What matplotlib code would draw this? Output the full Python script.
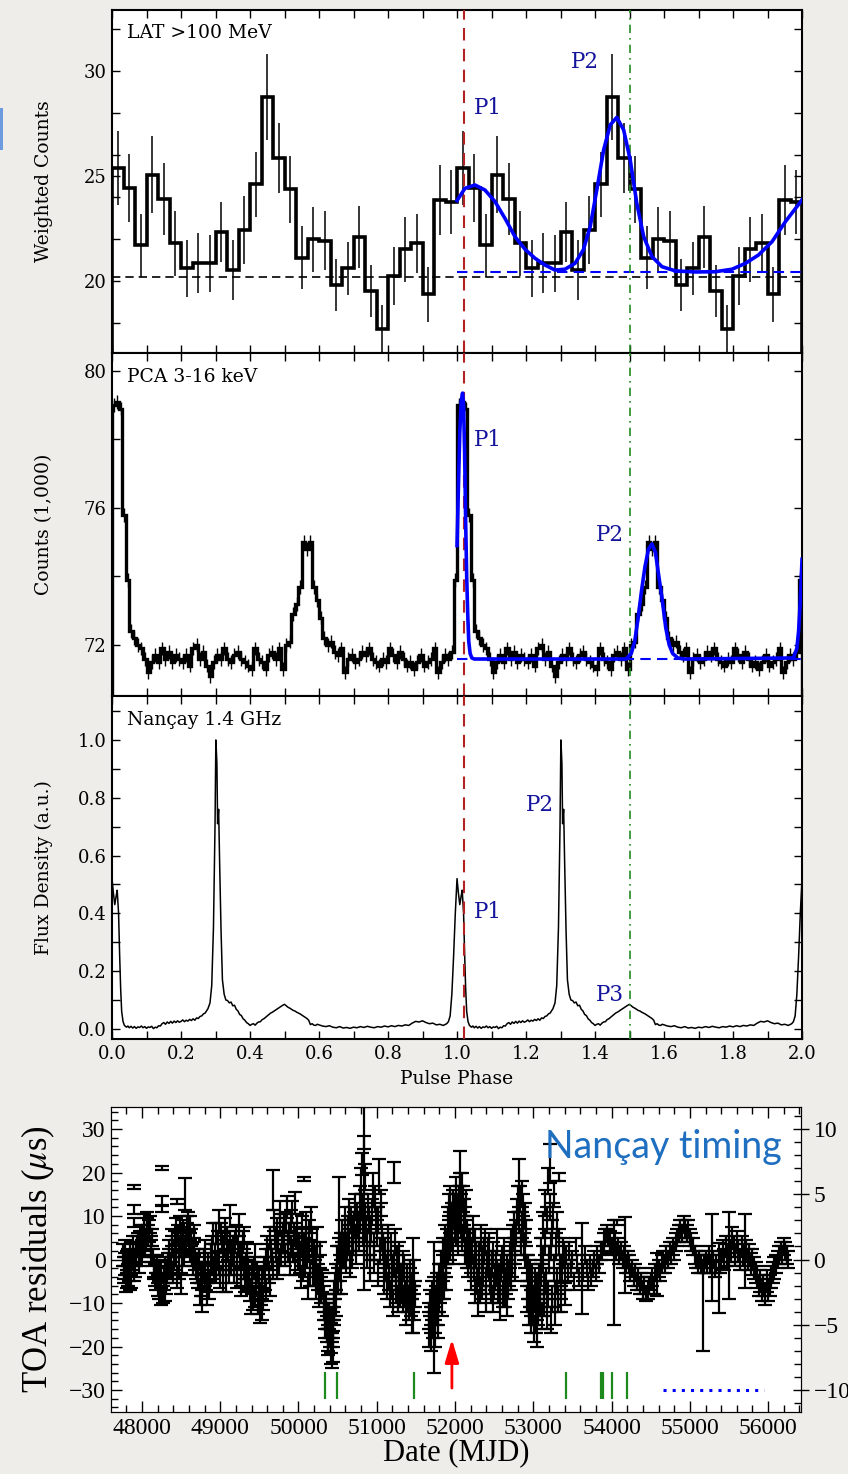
import matplotlib.pyplot as plt
from matplotlib.patches import Rectangle
from matplotlib.ticker import MultipleLocator
import numpy as np

plt.rcParams['font.family'] = 'DejaVu Serif'
plt.rcParams['mathtext.fontset'] = 'stix'

# ---- LAT >100 MeV, 30 bins per rotation (one rotation, shown twice)
lat_counts = [25.37, 24.44, 21.71, 25.05, 23.90, 21.79, 20.60, 20.84, 20.84, 22.35,
              20.52, 22.43, 24.60, 28.78, 25.87, 24.37, 21.11, 21.98, 21.92, 19.81,
              20.60, 22.08, 19.52, 17.70, 20.24, 21.51, 21.79, 19.37, 23.86, 23.78]
lat_err = [1.75, 1.62, 1.50, 1.83, 1.70, 1.55, 1.35, 1.43, 1.37, 1.43,
           1.41, 1.60, 1.55, 2.05, 1.67, 1.60, 1.50, 1.53, 1.39, 1.23,
           1.27, 1.47, 1.23, 1.15, 1.37, 1.55, 1.40, 1.31, 1.67, 1.52]
lat_bg = 20.2
lat_fit_phase = [1.0, 1.023, 1.052, 1.081, 1.110, 1.139, 1.168, 1.197, 1.226, 1.255,
                 1.284, 1.313, 1.342, 1.366, 1.386, 1.405, 1.425, 1.444, 1.463, 1.483,
                 1.502, 1.521, 1.541, 1.565, 1.594, 1.633, 1.691, 1.749, 1.797, 1.836,
                 1.874, 1.913, 1.952, 2.0]
lat_fit = [23.83, 24.41, 24.57, 24.33, 23.78, 22.98, 22.11, 21.51, 21.08, 20.76,
           20.52, 20.56, 20.84, 21.48, 22.59, 24.33, 26.24, 27.43, 27.79, 27.19,
           25.76, 23.70, 22.11, 21.16, 20.68, 20.48, 20.43, 20.44, 20.56, 20.84,
           21.24, 21.87, 22.83, 23.86]
lat_fit_bg = 20.41

# ---- PCA 3-16 keV, 100 bins per rotation (thousands of counts)
pca_counts = [79.0, 79.1, 78.9, 75.8, 73.9, 72.4, 72.2, 72.0, 71.9, 71.6,
              71.2, 71.5, 71.7, 71.5, 71.9, 71.6, 71.8, 71.5, 71.7, 71.6,
              71.5, 71.7, 71.4, 71.9, 72.0, 71.6, 71.8, 71.4, 71.1, 71.5,
              71.7, 71.6, 71.9, 71.6, 71.5, 71.7, 71.8, 71.6, 71.5, 71.4,
              71.3, 71.9, 71.6, 71.5, 71.3, 71.7, 71.8, 71.6, 71.9, 71.3,
              72.0, 72.1, 72.9, 73.2, 73.7, 75.0, 74.8, 75.0, 73.7, 73.3,
              72.8, 72.2, 72.0, 72.1, 71.8, 71.7, 71.9, 71.2, 71.6, 71.7,
              71.5, 71.6, 71.8, 71.7, 71.9, 71.6, 71.5, 71.4, 71.6, 71.5,
              71.9, 71.7, 71.5, 71.8, 71.6, 71.4, 71.5, 71.3, 71.5, 71.7,
              71.4, 71.5, 71.6, 71.9, 71.2, 71.5, 71.7, 71.6, 71.8, 73.9]
pca_err = 0.2
pca_fit_phase = [1.000, 1.004, 1.008, 1.012, 1.016, 1.019, 1.022, 1.025, 1.028, 1.031,
                 1.034, 1.038, 1.043, 1.05, 1.49, 1.505, 1.515, 1.525, 1.535, 1.545,
                 1.555, 1.565, 1.575, 1.585, 1.595, 1.605, 1.615, 1.625, 1.64, 1.66,
                 1.975, 1.985, 1.99, 1.995, 2.0]
pca_fit = [74.9, 76.6, 78.2, 79.1, 79.35, 79.0, 77.6, 75.6, 74.0, 72.9,
           72.1, 71.75, 71.62, 71.59, 71.59, 71.75, 72.1, 72.8, 73.6, 74.3,
           74.8, 74.95, 74.7, 74.0, 73.3, 72.5, 72.0, 71.75, 71.62, 71.59,
           71.62, 71.9, 72.4, 73.3, 74.5]
pca_fit_bg = 71.59

# ---- Nancay 1.4 GHz profile (one rotation)
radio_phase = [0.000, 0.004, 0.008, 0.012, 0.015, 0.019, 0.022, 0.025, 0.028, 0.032,
               0.036, 0.042, 0.046, 0.05, 0.055, 0.06, 0.065, 0.07, 0.075, 0.08,
               0.085, 0.09, 0.095, 0.10, 0.105, 0.11, 0.115, 0.12, 0.125, 0.13,
               0.135, 0.14, 0.145, 0.15, 0.155, 0.16, 0.165, 0.17, 0.175, 0.18,
               0.185, 0.19, 0.195, 0.20, 0.205, 0.21, 0.215, 0.22, 0.225, 0.23,
               0.235, 0.24, 0.245, 0.25, 0.255, 0.26, 0.265, 0.27, 0.278, 0.284,
               0.289, 0.294, 0.2985, 0.301, 0.304, 0.306, 0.309, 0.312, 0.316, 0.320,
               0.325, 0.330, 0.335, 0.34, 0.345, 0.35, 0.355, 0.36, 0.365, 0.37,
               0.375, 0.38, 0.385, 0.39, 0.395, 0.40, 0.405, 0.41, 0.415, 0.42,
               0.425, 0.43, 0.435, 0.44, 0.445, 0.45, 0.455, 0.46, 0.465, 0.47,
               0.475, 0.48, 0.485, 0.49, 0.495, 0.50, 0.505, 0.51, 0.515, 0.52,
               0.525, 0.53, 0.535, 0.54, 0.545, 0.55, 0.555, 0.56, 0.565, 0.57,
               0.575, 0.58, 0.585, 0.59, 0.595, 0.60, 0.61, 0.62, 0.63, 0.64,
               0.65, 0.66, 0.67, 0.68, 0.69, 0.70, 0.71, 0.72, 0.73, 0.74,
               0.75, 0.76, 0.77, 0.78, 0.79, 0.80, 0.81, 0.82, 0.83, 0.84,
               0.85, 0.86, 0.87, 0.88, 0.89, 0.90, 0.91, 0.92, 0.93, 0.94,
               0.95, 0.96, 0.97, 0.975, 0.98, 0.985, 0.99, 0.995]
radio_flux = [0.52, 0.47, 0.43, 0.46, 0.48, 0.40, 0.26, 0.14, 0.06, 0.025,
              0.012, 0.006, 0.010, 0.004, 0.009, 0.003, 0.008, 0.002, 0.007, 0.005,
              0.010, 0.004, 0.008, 0.002, 0.007, 0.005, 0.009, 0.001, 0.006, 0.004,
              0.011, 0.010, 0.018, 0.022, 0.016, 0.024, 0.019, 0.026, 0.020, 0.027,
              0.022, 0.028, 0.023, 0.026, 0.031, 0.025, 0.030, 0.027, 0.033, 0.029,
              0.035, 0.030, 0.038, 0.036, 0.043, 0.045, 0.052, 0.055, 0.07, 0.09,
              0.15, 0.35, 0.70, 1.00, 0.92, 0.71, 0.76, 0.57, 0.34, 0.17,
              0.12, 0.10, 0.098, 0.09, 0.093, 0.08, 0.082, 0.068, 0.062, 0.05,
              0.046, 0.035, 0.030, 0.022, 0.018, 0.012, 0.016, 0.018, 0.013, 0.020,
              0.024, 0.025, 0.032, 0.035, 0.040, 0.045, 0.050, 0.055, 0.058, 0.062,
              0.066, 0.07, 0.074, 0.078, 0.082, 0.085, 0.080, 0.075, 0.072, 0.068,
              0.064, 0.062, 0.058, 0.055, 0.052, 0.048, 0.044, 0.04, 0.036, 0.03,
              0.015, 0.018, 0.013, 0.012, 0.016, 0.014, 0.010, 0.008, 0.011, 0.006,
              0.004, 0.008, 0.003, 0.005, 0.002, 0.006, 0.004, 0.008, 0.005, 0.009,
              0.006, 0.004, 0.008, 0.006, 0.010, 0.007, 0.011, 0.008, 0.012, 0.010,
              0.014, 0.012, 0.020, 0.026, 0.024, 0.028, 0.022, 0.018, 0.020, 0.014,
              0.016, 0.012, 0.018, 0.025, 0.045, 0.12, 0.25, 0.40]

p1_phase = 1.02
p3_phase = 1.5

# ---- Nancay timing residuals: (MJD, residual us, error us)
toa_points = [
    (47760, 1.0, 2.5), (47775, -3.5, 2.0), (47790, -1.0, 2.5), (47805, -4.5, 2.0), (47820, 0.5, 2.0),
    (47835, -2.5, 2.5), (47850, -5.0, 2.0), (47865, -1.5, 2.0), (47880, 1.5, 2.5), (47893, 16.7, 0.4),
    (47895, 11.5, 1.0), (47897, 8.5, 1.0), (47905, -3.0, 2.0),
    (47920, 0.5, 2.0), (47940, 3.0, 2.5), (47960, -1.0, 2.0), (47980, 4.5, 2.0), (48000, 2.0, 2.5),
    (48020, 6.0, 2.0), (48040, 3.5, 2.5), (48060, 7.5, 2.0), (48080, 5.5, 2.5), (48100, 8.0, 2.0),
    (48120, 3.0, 2.5), (48140, 0.5, 2.0),
    (48160, -2.0, 2.5), (48180, -5.0, 2.0), (48200, -3.0, 2.5), (48220, -7.0, 2.0), (48240, -4.0, 2.5),
    (48255, 21.0, 0.5), (48258, 13.5, 1.2), (48262, 11.8, 0.8), (48270, -8.0, 2.0), (48290, -2.0, 2.5),
    (48310, -6.0, 2.0), (48330, -1.0, 2.5),
    (48350, 2.0, 2.5), (48370, -2.0, 2.5), (48390, 5.0, 2.0), (48410, 0.0, 2.5), (48430, 7.0, 2.5),
    (48447, 13.3, 0.6), (48450, -4.0, 2.5), (48470, 3.0, 2.5), (48490, 8.0, 2.0), (48505, -5.5, 2.5),
    (48520, 4.0, 2.0), (48540, 1.0, 2.5),
    (48555, 15.0, 3.7), (48570, 6.0, 2.5), (48590, 9.0, 2.0), (48610, 2.0, 2.5), (48630, 5.0, 2.0),
    (48650, -1.0, 2.5), (48670, 3.0, 2.0), (48690, -2.0, 2.5),
    (48710, -4.0, 2.5), (48730, 0.0, 2.5), (48750, -6.0, 2.5), (48765, -9.5, 2.5), (48780, -3.0, 2.0),
    (48800, 2.0, 2.5), (48820, -5.0, 2.0), (48840, -1.0, 2.5), (48860, -7.0, 2.0), (48880, 1.0, 2.5),
    (48900, 3.0, 2.5), (48920, -2.0, 2.5), (48940, 6.0, 2.5), (48960, 0.0, 2.0), (48980, 9.0, 2.5),
    (49000, -4.0, 2.5), (49020, 4.0, 2.0), (49040, -1.0, 2.5), (49060, 7.0, 2.5), (49080, -5.0, 2.5),
    (49100, 2.0, 2.0), (49120, 10.0, 2.5), (49140, -1.0, 2.5),
    (49160, 3.0, 2.5), (49180, -3.0, 2.5), (49200, 6.0, 2.0), (49220, -1.0, 2.5), (49240, 8.0, 2.5),
    (49260, -4.0, 2.0), (49280, 1.0, 2.5), (49300, 5.0, 2.5), (49320, -5.0, 2.5), (49340, 2.0, 2.0),
    (49360, -2.0, 2.5), (49380, -7.0, 2.5), (49400, -3.0, 2.5), (49420, -9.0, 2.5), (49440, 1.0, 2.5),
    (49460, -6.0, 2.5), (49480, -10.0, 2.5), (49500, -4.0, 2.0), (49520, -8.0, 2.5), (49540, -11.5, 2.5),
    (49560, -2.0, 2.5), (49580, -7.0, 2.5), (49600, 3.0, 2.5),
    (49620, -3.0, 2.5), (49640, 5.0, 2.5), (49660, 0.0, 2.5), (49680, 16.0, 4.5), (49690, 9.0, 2.5),
    (49710, 2.0, 2.5), (49730, 7.0, 2.5), (49750, -1.0, 2.5), (49770, 11.0, 2.5), (49790, 4.0, 2.0),
    (49810, 8.0, 2.5), (49830, 1.0, 2.5), (49850, 12.0, 2.5), (49870, 4.0, 2.5), (49890, -1.0, 2.5),
    (49910, 9.0, 2.5), (49930, 2.0, 2.5), (49950, 13.0, 2.5), (49970, 5.0, 2.5), (49990, 0.0, 2.5),
    (50010, 3.0, 3.0), (50030, -4.0, 2.5), (50050, 7.0, 3.0), (50065, 18.5, 0.5), (50080, -1.0, 3.0),
    (50100, 5.0, 2.5), (50120, -6.0, 3.0), (50140, 2.0, 2.5), (50160, 9.0, 3.0), (50180, -3.0, 3.0),
    (50200, 1.0, 3.0), (50220, -6.0, 3.0), (50240, 4.0, 3.5), (50260, -8.0, 3.0), (50280, -2.0, 3.0),
    (50300, -5.0, 2.5),
    (50320, -9.0, 3.0), (50335, -13.0, 3.0), (50350, -11.0, 3.0), (50365, -16.0, 3.0), (50380, -19.0, 3.0),
    (50395, -15.0, 3.0), (50410, -21.0, 3.0), (50420, -18.0, 3.5), (50430, -14.0, 3.0), (50440, -20.0, 3.5),
    (50450, -11.0, 3.0),
    (50460, -8.0, 3.0), (50475, -4.0, 3.0), (50490, -1.0, 4.0), (50515, 11.0, 8.0), (50530, -2.0, 3.0),
    (50545, 3.0, 3.0),
    (50560, 6.0, 3.0), (50580, 1.0, 3.0), (50600, 9.0, 3.0), (50620, 3.0, 3.0), (50640, 11.0, 3.0),
    (50660, -1.0, 3.0), (50680, 7.0, 3.0), (50700, 4.0, 3.0), (50720, 12.0, 3.0), (50740, 2.0, 3.0),
    (50760, 8.0, 3.0), (50780, 14.0, 3.0),
    (50800, 18.0, 3.0), (50815, 22.0, 2.5), (50833, 14.0, 21.0), (50840, 27.0, 1.5), (50850, 10.0, 3.0),
    (50870, 4.0, 3.0), (50890, 12.0, 3.0), (50910, -2.0, 3.0), (50930, 7.0, 3.0), (50950, 16.0, 4.0),
    (50970, 3.0, 3.0), (50990, 9.0, 3.0), (51010, -3.0, 3.0), (51030, 19.0, 4.0), (51050, 13.0, 3.0),
    (51070, 5.0, 3.0), (51090, -1.0, 3.0),
    (51110, 2.0, 3.0), (51130, -6.0, 3.0), (51150, 5.0, 3.0), (51170, -8.0, 3.0), (51190, -2.0, 3.0),
    (51210, -10.0, 3.0), (51216, 20.0, 2.5), (51230, 4.0, 3.0), (51250, -5.0, 3.0), (51270, -9.0, 3.0),
    (51290, 1.0, 3.0),
    (51310, -4.0, 3.0), (51330, -9.0, 3.0), (51350, -2.0, 3.0), (51370, -12.0, 3.0), (51390, -7.0, 3.0),
    (51410, -11.0, 3.0), (51430, -5.0, 3.0), (51445, -13.0, 4.0), (51460, -9.0, 3.0), (51465, -6.0, 11.0),
    (51480, -3.0, 3.0),
    (51665, -16.0, 4.0), (51680, -10.0, 3.0), (51695, -14.0, 3.0), (51710, -8.0, 3.0), (51727, -11.0, 15.0),
    (51740, -17.0, 3.0), (51755, -12.0, 3.0), (51770, -6.0, 3.0), (51785, -15.0, 3.0), (51800, -9.0, 3.0),
    (51815, -4.0, 3.0), (51830, -10.0, 3.0), (51845, 2.0, 3.0), (51860, -6.0, 3.0), (51875, 5.0, 3.0),
    (51890, -1.0, 3.0), (51905, 8.0, 4.0), (51920, 12.0, 3.0), (51935, 3.0, 3.0), (51950, 9.0, 3.0),
    (51965, 5.0, 3.0), (51980, 13.0, 3.0), (51995, 7.0, 3.0), (52010, 16.0, 3.0), (52025, 10.0, 3.0),
    (52040, 4.0, 3.0), (52055, 14.0, 3.0), (52068, 21.0, 4.0), (52080, 8.0, 3.0), (52095, 17.0, 3.0),
    (52110, 11.0, 3.0), (52125, 2.0, 3.0), (52140, 13.0, 3.0), (52155, 6.0, 3.0), (52170, -1.0, 3.0),
    (52190, 4.0, 3.0), (52210, -4.0, 3.0), (52230, 7.0, 3.0), (52250, -7.0, 3.0), (52270, 1.0, 3.0),
    (52290, -10.0, 3.0), (52310, -3.0, 3.0), (52330, 5.0, 3.0), (52350, -6.0, 3.0), (52370, 2.0, 3.0),
    (52390, -9.0, 3.0), (52410, -1.0, 3.0),
    (52430, 3.0, 3.0), (52450, -5.0, 3.0), (52470, -1.0, 3.0), (52490, -9.0, 3.0), (52510, -4.0, 3.0),
    (52530, 4.0, 3.0), (52550, -7.0, 3.0), (52570, -11.0, 3.0), (52590, -2.0, 3.0), (52610, -8.0, 3.0),
    (52630, 2.0, 3.0), (52650, -5.0, 3.0), (52670, -10.0, 3.0),
    (52690, -3.0, 3.0), (52710, 4.0, 3.0), (52730, -1.0, 3.0), (52750, 8.0, 3.0), (52770, 2.0, 3.0),
    (52790, 11.0, 3.0), (52813, 17.0, 6.0), (52830, 14.0, 3.0), (52850, 8.0, 3.0), (52865, 12.0, 3.0),
    (52880, 3.0, 3.0), (52900, 10.0, 3.0), (52915, -2.0, 3.0),
    (52930, -6.0, 3.0), (52945, -12.0, 3.0), (52960, -3.0, 3.0), (52975, -14.0, 3.0), (52990, -9.0, 3.0),
    (53005, -16.0, 3.0), (53020, -5.0, 3.0), (53035, -11.0, 3.0), (53050, -17.0, 3.0), (53065, -7.0, 3.0),
    (53080, -10.0, 3.0), (53095, 2.0, 3.0), (53110, -13.0, 3.0), (53125, 8.0, 3.0), (53140, -6.0, 3.0),
    (53155, 13.0, 3.0), (53170, -12.0, 4.0), (53185, 18.0, 3.0), (53200, 0.0, 3.0), (53218, 22.0, 4.5),
    (53230, -14.0, 3.0), (53245, 6.0, 3.0), (53260, 15.0, 3.0), (53275, -8.0, 3.0),
    (53290, 3.0, 3.0), (53305, -5.0, 3.0), (53325, 19.0, 1.0), (53340, -2.0, 3.0), (53360, -9.0, 3.0),
    (53380, 2.0, 3.0), (53400, -4.0, 3.0), (53410, -8.0, 2.5),
    (53420, 1.0, 2.0), (53440, -3.0, 2.0), (53460, 2.0, 2.0), (53480, -2.0, 2.0), (53500, 0.0, 2.0),
    (53520, -5.0, 2.0), (53540, 3.0, 2.0), (53560, -1.0, 2.0), (53580, -4.0, 2.0), (53623, -2.0, 10.5),
    (53640, -3.0, 2.0), (53660, 1.0, 2.0), (53680, -2.0, 2.0), (53700, -5.0, 2.0), (53720, -1.0, 2.0),
    (53740, -4.0, 2.0), (53760, -2.0, 2.0), (53780, 0.0, 2.0), (53800, -3.0, 2.0), (53820, 1.0, 2.0),
    (53840, -1.0, 2.0), (53860, 2.0, 2.0),
    (53880, 2.0, 2.0), (53900, 4.0, 2.0), (53920, 5.0, 2.0), (53940, 6.0, 2.0), (53960, 5.0, 2.0),
    (53980, 4.0, 2.5), (54000, 3.0, 2.0), (54028, -3.0, 12.0), (54040, 4.0, 2.0), (54060, 2.0, 2.0),
    (54070, 8.5, 0.5), (54080, 3.0, 2.0), (54100, 1.0, 2.0), (54120, 2.0, 2.0), (54140, 0.0, 2.0),
    (54160, 1.0, 2.0), (54176, 1.0, 8.8), (54190, -1.0, 2.0), (54205, 0.0, 2.0),
    (54220, -1.0, 2.0), (54240, -3.0, 2.0), (54260, -2.0, 2.0), (54280, -4.0, 2.0), (54300, -3.0, 2.0),
    (54320, -5.0, 2.0), (54340, -4.0, 2.0), (54360, -6.0, 2.0), (54380, -5.0, 2.0), (54400, -7.0, 2.0),
    (54420, -6.0, 2.0), (54440, -8.0, 1.5), (54460, -7.0, 2.0), (54480, -6.0, 2.0), (54500, -5.0, 2.0),
    (54520, -4.0, 2.0), (54540, -6.0, 2.0),
    (54560, -3.0, 2.0), (54581, -3.5, 5.0), (54600, -2.0, 2.0), (54620, -3.0, 2.0), (54640, -1.0, 2.0),
    (54660, 0.0, 2.0), (54680, -1.0, 2.0), (54700, 1.0, 2.0), (54720, 0.0, 2.0), (54740, 2.0, 2.0),
    (54760, 1.0, 2.0), (54780, 3.0, 2.0), (54800, 2.0, 2.0),
    (54820, 4.0, 2.0), (54840, 5.0, 2.0), (54860, 6.0, 2.0), (54880, 7.0, 2.0), (54900, 6.0, 2.0),
    (54920, 8.0, 2.0), (54940, 7.0, 2.0), (54960, 6.0, 2.0), (54980, 7.0, 2.0), (55000, 5.0, 2.0),
    (55020, 4.0, 2.0), (55040, 3.0, 2.0), (55060, 1.0, 2.0),
    (55080, 0.0, 2.0), (55100, -1.0, 2.0), (55120, 0.0, 2.0), (55140, -1.0, 2.0), (55165, -10.5, 10.5),
    (55180, -1.0, 2.0), (55200, 0.0, 2.0), (55220, -1.0, 2.0), (55240, 1.0, 2.0), (55260, -1.0, 2.0),
    (55284, 0.5, 10.0), (55300, 0.0, 2.0), (55320, -2.0, 2.0), (55340, -1.0, 2.0), (55369, -4.3, 8.0),
    (55380, -1.0, 2.0), (55400, 0.0, 2.0),
    (55420, 2.0, 2.5), (55440, 0.0, 2.5), (55460, 3.0, 2.5), (55480, 1.0, 2.5), (55497, 1.0, 10.0),
    (55520, 2.0, 2.5), (55540, 5.0, 2.5), (55560, 3.0, 2.5), (55580, 1.0, 2.5), (55600, 4.0, 2.5),
    (55620, 2.0, 2.5), (55640, 0.0, 2.5), (55660, 3.0, 2.5), (55680, 1.0, 2.5), (55710, 2.0, 8.5),
    (55720, 2.0, 2.5), (55740, 0.0, 2.5), (55760, 1.0, 2.5), (55780, -1.0, 2.5), (55800, 0.0, 2.5),
    (55820, -2.0, 2.5),
    (55840, -3.0, 2.5), (55860, -4.0, 2.5), (55880, -6.0, 2.5), (55900, -5.0, 2.5), (55920, -7.0, 2.5),
    (55940, -6.0, 2.5), (55960, -8.0, 2.5), (55980, -5.0, 2.5), (56000, -7.0, 2.5), (56020, -6.0, 2.5),
    (56040, -4.0, 2.5), (56060, -3.0, 2.5), (56080, -2.0, 2.5),
    (56100, -1.0, 2.0), (56120, 0.0, 2.0), (56140, 1.0, 2.0), (56160, 2.0, 2.0), (56180, 1.0, 2.0),
    (56200, 3.0, 2.0), (56220, 2.0, 2.0), (56240, 1.0, 2.0), (56260, 0.0, 2.0),
]
# denser sampling of the early (pre-2005) era
toa_points_dense = [
    (47768, -2.0, 2.5), (47783, 2.5, 2.0), (47798, -5.5, 2.0), (47812, -0.5, 2.5), (47828, -3.5, 2.5),
    (47843, 1.5, 2.0), (47858, -4.0, 2.5), (47873, -0.5, 2.0), (47887, 3.5, 2.0), (47912, -1.5, 2.5),
    (47930, 1.5, 2.5), (47950, 4.0, 2.0), (47970, 1.0, 2.5), (47990, 6.0, 2.0), (48010, 3.0, 2.5),
    (48030, 8.5, 2.0), (48050, 4.5, 2.5), (48070, 9.0, 2.0), (48090, 6.5, 2.5), (48110, 2.0, 2.5),
    (48130, 5.0, 2.0), (48148, -1.5, 2.5),
    (48170, -3.5, 2.5), (48190, -1.0, 2.0), (48210, -6.0, 2.5), (48230, -2.0, 2.0), (48250, -8.5, 2.0),
    (48280, -4.5, 2.5), (48300, -7.5, 2.0), (48320, -3.0, 2.5), (48340, 0.5, 2.0),
    (48360, -1.0, 2.5), (48380, 3.0, 2.5), (48400, -3.0, 2.5), (48420, 4.0, 2.5), (48440, 1.0, 2.5),
    (48460, 6.0, 2.0), (48480, -2.0, 2.5), (48500, 5.0, 2.5), (48515, -1.0, 2.5), (48530, 7.0, 2.0),
    (48548, 3.0, 2.5),
    (48562, 3.5, 2.5), (48580, 7.5, 2.5), (48600, 4.0, 2.5), (48620, 8.0, 2.0), (48640, 1.0, 2.5),
    (48660, 6.0, 2.0), (48680, 0.0, 2.5), (48698, -3.0, 2.5),
    (48720, -1.0, 2.5), (48740, -8.0, 2.5), (48758, -3.0, 2.5), (48772, -6.0, 2.5), (48790, 0.0, 2.5),
    (48810, -3.5, 2.5), (48830, -8.0, 2.5), (48850, -3.0, 2.5), (48870, -5.0, 2.5), (48890, -1.0, 2.5),
    (48910, 6.0, 2.5), (48930, 1.0, 2.5), (48950, -3.0, 2.5), (48970, 4.0, 2.5), (48990, -1.0, 2.5),
    (49010, 6.0, 2.5), (49030, -5.0, 2.5), (49050, 3.0, 2.5), (49070, 0.0, 2.5), (49090, 5.0, 2.5),
    (49110, -3.0, 2.5), (49130, 4.0, 2.5), (49148, 1.0, 2.5),
    (49170, 0.0, 2.5), (49190, 4.0, 2.5), (49210, -4.0, 2.5), (49230, 3.0, 2.5), (49250, 1.0, 2.5),
    (49270, -6.0, 2.5), (49290, 4.0, 2.5), (49310, -2.0, 2.5), (49330, -1.0, 2.5), (49348, -4.0, 2.5),
    (49370, -4.5, 2.5), (49390, -10.0, 2.5), (49410, -5.5, 2.5), (49430, -2.0, 2.5), (49450, -8.5, 2.5),
    (49470, -3.0, 2.5), (49490, -7.0, 2.5), (49510, -12.0, 2.5), (49530, -5.0, 2.5), (49550, -9.0, 2.5),
    (49570, -4.5, 2.5), (49590, 0.0, 2.5),
    (49610, 1.0, 2.5), (49630, -6.0, 2.5), (49650, 2.0, 2.5), (49670, -2.0, 2.5), (49700, 5.0, 2.5),
    (49720, -2.0, 2.5), (49740, 4.0, 2.5), (49760, 8.0, 2.5), (49780, 1.0, 2.5), (49798, 6.0, 2.5),
    (49820, 4.0, 2.5), (49840, 8.5, 2.5), (49860, 2.0, 2.5), (49880, 6.0, 2.5), (49900, 3.0, 2.5),
    (49920, 11.0, 2.5), (49940, 6.0, 2.5), (49960, -1.0, 2.5), (49980, 8.0, 2.5), (49998, 3.0, 2.5),
    (50020, 0.0, 3.0), (50040, 4.0, 3.0), (50058, -2.0, 3.0), (50072, 3.0, 3.0), (50090, 8.0, 3.0),
    (50110, 1.0, 3.0), (50130, 6.0, 3.0), (50150, -3.0, 3.0), (50170, 4.0, 3.0), (50190, 0.0, 3.0),
    (50210, -3.0, 3.0), (50230, 0.0, 3.0), (50250, -4.0, 3.0), (50270, 1.0, 3.0), (50290, -7.0, 3.0),
    (50312, -6.0, 3.0), (50328, -11.0, 3.0), (50342, -15.0, 3.0), (50358, -13.0, 3.0), (50372, -18.0, 3.0),
    (50388, -13.0, 3.0), (50402, -17.0, 3.0), (50415, -14.0, 3.0), (50425, -22.0, 3.0), (50435, -17.0, 3.0),
    (50445, -15.0, 3.0),
    (50455, -12.0, 3.0), (50468, -6.0, 3.0), (50482, -10.0, 3.0), (50500, -5.0, 3.0), (50522, 2.0, 3.0),
    (50538, -5.0, 3.0), (50552, 1.0, 3.0),
    (50570, 3.0, 3.0), (50590, 6.0, 3.0), (50610, 0.0, 3.0), (50630, 7.0, 3.0), (50650, 4.0, 3.0),
    (50670, 9.0, 3.0), (50690, 1.0, 3.0), (50710, 8.0, 3.0), (50730, 5.0, 3.0), (50750, 10.0, 3.0),
    (50770, 5.0, 3.0), (50790, 9.0, 3.0),
    (50808, 12.0, 3.0), (50822, 6.0, 3.0), (50845, 19.0, 3.0), (50860, 7.0, 3.0), (50880, 1.0, 3.0),
    (50900, 9.0, 3.0), (50920, 3.0, 3.0), (50940, 11.0, 3.0), (50960, 0.0, 3.0), (50980, 14.0, 3.0),
    (51000, 6.0, 3.0), (51020, 9.0, 3.0), (51040, 2.0, 3.0), (51060, 10.0, 3.0), (51080, 3.0, 3.0),
    (51098, -5.0, 3.0),
    (51120, -2.0, 3.0), (51140, 1.0, 3.0), (51160, -4.0, 3.0), (51180, 3.0, 3.0), (51200, -6.0, 3.0),
    (51220, -1.0, 3.0), (51240, -7.0, 3.0), (51260, 0.0, 3.0), (51280, -4.0, 3.0), (51298, -8.0, 3.0),
    (51320, -7.0, 3.0), (51340, -1.0, 3.0), (51360, -8.0, 3.0), (51380, -4.0, 3.0), (51400, -9.0, 3.0),
    (51420, -3.0, 3.0), (51438, -10.0, 3.0), (51452, -6.0, 3.0), (51472, -11.0, 3.0), (51488, -8.0, 3.0),
    (51672, -13.0, 3.0), (51688, -18.0, 3.0), (51702, -11.0, 3.0), (51718, -15.0, 3.0), (51733, -7.0, 3.0),
    (51748, -14.0, 3.0), (51762, -9.0, 3.0), (51778, -12.0, 3.0), (51792, -4.0, 3.0),
    (51808, -7.0, 3.0), (51822, -1.0, 3.0), (51838, -6.0, 3.0), (51852, -2.0, 3.0), (51868, 1.0, 3.0),
    (51882, -4.0, 3.0), (51898, 4.0, 3.0), (51912, 2.0, 3.0), (51928, 7.0, 3.0), (51942, 14.0, 3.0),
    (51958, 10.0, 3.0), (51972, 2.0, 3.0), (51988, 10.0, 3.0), (52002, 12.0, 3.0), (52018, 6.0, 3.0),
    (52032, 12.0, 3.0), (52048, 9.0, 3.0), (52062, 17.0, 3.0), (52075, 12.0, 3.0), (52088, 5.0, 3.0),
    (52102, 14.0, 3.0), (52118, 7.0, 3.0), (52132, 9.0, 3.0), (52148, 1.0, 3.0), (52162, 4.0, 3.0),
    (52178, 1.0, 3.0),
    (52200, 0.0, 3.0), (52220, 2.0, 3.0), (52240, -2.0, 3.0), (52260, 4.0, 3.0), (52280, -5.0, 3.0),
    (52300, 1.0, 3.0), (52320, -7.0, 3.0), (52340, 0.0, 3.0), (52360, -3.0, 3.0), (52380, 4.0, 3.0),
    (52400, -5.0, 3.0), (52420, 2.0, 3.0),
    (52440, -2.0, 3.0), (52460, -7.0, 3.0), (52480, 1.0, 3.0), (52500, -6.0, 3.0), (52520, -1.0, 3.0),
    (52540, -3.0, 3.0), (52560, -4.0, 3.0), (52580, -7.0, 3.0), (52600, 0.0, 3.0), (52620, -4.0, 3.0),
    (52640, -8.0, 3.0), (52660, -2.0, 3.0), (52680, -6.0, 3.0),
    (52700, 1.0, 3.0), (52720, -4.0, 3.0), (52740, 5.0, 3.0), (52760, -2.0, 3.0), (52780, 6.0, 3.0),
    (52800, 14.0, 3.0), (52820, 9.0, 3.0), (52840, 4.0, 3.0), (52858, 15.0, 3.0), (52872, 7.0, 3.0),
    (52890, 1.0, 3.0), (52908, 6.0, 3.0),
    (52922, -9.0, 3.0), (52938, -2.0, 3.0), (52952, -8.0, 3.0), (52968, -10.0, 3.0), (52982, -4.0, 3.0),
    (52998, -12.0, 3.0), (53012, -9.0, 3.0), (53028, -14.0, 3.0), (53042, -6.0, 3.0), (53058, -12.0, 3.0),
    (53072, -4.0, 3.0), (53088, -8.0, 3.0), (53102, -3.0, 3.0), (53118, 0.0, 3.0), (53132, -10.0, 3.0),
    (53148, 4.0, 3.0), (53162, -5.0, 3.0), (53178, 9.0, 3.0), (53192, -8.0, 3.0), (53208, 12.0, 3.0),
    (53224, 3.0, 3.0), (53238, -9.0, 3.0), (53252, 10.0, 3.0), (53268, -2.0, 3.0), (53282, -12.0, 3.0),
    (53298, 8.0, 3.0), (53312, -9.0, 3.0), (53332, 4.0, 3.0), (53350, -6.0, 3.0), (53370, -2.0, 3.0),
    (53390, 1.0, 3.0),
]
glitch_mjd = [50336, 50488, 51476, 53412, 53861, 53878, 53896, 53999, 54193]
glitch_span = (-32.1, -25.8)
arrow_mjd = 51960
arrow_span = (-30.2, -17.7)
dotted_mjd = [54656, 55948]
dotted_level = -30.0

navy = '#15159c'
serif_big = 'Liberation Serif'

fig = plt.figure(figsize=(8.48, 14.74), dpi=100)
fig.patch.set_facecolor('#efede9')
fig.add_artist(Rectangle((0.0, 1 - 150 / 1474), 3 / 848, 42 / 1474,
                         transform=fig.transFigure, color='#6d9be0', lw=0))


def phase_axes(rect):
    ax = fig.add_axes(rect)
    ax.set_facecolor('white')
    ax.set_xlim(0, 2)
    ax.xaxis.set_major_locator(MultipleLocator(0.2))
    ax.xaxis.set_minor_locator(MultipleLocator(0.1))
    ax.tick_params(which='both', direction='in', top=True, right=True,
                   length=6, width=1.0, labelsize=13, pad=4)
    for s in ax.spines.values():
        s.set_linewidth(1.5)
    ax.axvline(p1_phase, color='#b22222', ls=(0, (6, 4)), lw=1.5, zorder=4)
    ax.axvline(p3_phase, color='#228b22', ls=(0, (5, 3, 1, 3)), lw=1.2, zorder=4)
    ax.yaxis.set_label_coords(-0.085, 0.5)
    return ax


# ---- panel 1: LAT
ax1 = phase_axes([0.1321, 0.7605, 0.8137, 0.2327])
lat2 = np.concatenate([lat_counts, lat_counts])
lat_e2 = np.concatenate([lat_err, lat_err])
edges = np.linspace(0, 2, len(lat2) + 1)
centers = 0.5 * (edges[:-1] + edges[1:])
ax1.errorbar(centers, lat2, yerr=lat_e2, fmt='none', ecolor='k', elinewidth=1.1, capsize=0)
ax1.stairs(lat2, edges, color='k', lw=2.6)
ax1.axhline(lat_bg, color='k', ls=(0, (5, 3)), lw=1.2)
ax1.hlines(lat_fit_bg, 1.0, 2.0, colors='blue', linestyles=(0, (5, 3)), lw=1.5)
ax1.plot(lat_fit_phase, lat_fit, color='blue', lw=2.6, zorder=5)
ax1.set_ylim(16.57, 32.9)
ax1.yaxis.set_major_locator(MultipleLocator(5))
ax1.yaxis.set_minor_locator(MultipleLocator(2))
ax1.tick_params(labelbottom=False)
ax1.set_ylabel('Weighted Counts', fontsize=13.5)
ax1.text(0.022, 0.933, 'LAT >100 MeV', transform=ax1.transAxes, fontsize=13.5, va='center')
ax1.text(1.09, 28.24, 'P1', color=navy, fontsize=15.5, ha='center', va='center')
ax1.text(1.371, 30.43, 'P2', color=navy, fontsize=15.5, ha='center', va='center')

# ---- panel 2: PCA
ax2 = phase_axes([0.1321, 0.5278, 0.8137, 0.2327])
pca2 = np.concatenate([pca_counts, pca_counts])
pedges = np.linspace(0, 2, len(pca2) + 1)
pcent = 0.5 * (pedges[:-1] + pedges[1:])
ax2.errorbar(pcent, pca2, yerr=pca_err, fmt='none', ecolor='k', elinewidth=1.0, capsize=0)
ax2.stairs(pca2, pedges, color='k', lw=2.4)
ax2.hlines(pca_fit_bg, 1.0, 2.0, colors='blue', linestyles=(0, (5, 3)), lw=1.5)
ax2.plot(pca_fit_phase, pca_fit, color='blue', lw=2.6, zorder=5)
ax2.set_ylim(70.51, 80.52)
ax2.yaxis.set_major_locator(MultipleLocator(4))
ax2.yaxis.set_minor_locator(MultipleLocator(2))
ax2.tick_params(labelbottom=False)
ax2.set_ylabel('Counts (1,000)', fontsize=13.5)
ax2.text(0.022, 0.93, 'PCA 3-16 keV', transform=ax2.transAxes, fontsize=13.5, va='center')
ax2.text(1.09, 77.98, 'P1', color=navy, fontsize=15.5, ha='center', va='center')
ax2.text(1.443, 75.21, 'P2', color=navy, fontsize=15.5, ha='center', va='center')

# ---- panel 3: radio
ax3 = phase_axes([0.1321, 0.2951, 0.8137, 0.2327])
rph = np.concatenate([radio_phase, np.array(radio_phase) + 1, [2.0]])
rfl = np.concatenate([radio_flux, radio_flux, [radio_flux[0]]])
ax3.plot(rph, rfl, color='k', lw=1.1)
ax3.set_ylim(-0.035, 1.152)
ax3.yaxis.set_major_locator(MultipleLocator(0.2))
ax3.yaxis.set_minor_locator(MultipleLocator(0.1))
ax3.set_ylabel('Flux Density (a.u.)', fontsize=13.5)
ax3.set_xlabel('Pulse Phase', fontsize=13.5)
ax3.xaxis.set_label_coords(0.5, -0.09)
ax3.text(0.022, 0.93, 'Nançay 1.4 GHz', transform=ax3.transAxes, fontsize=13.5, va='center')
ax3.text(1.241, 0.775, 'P2', color=navy, fontsize=15.5, ha='center', va='center')
ax3.text(1.09, 0.405, 'P1', color=navy, fontsize=15.5, ha='center', va='center')
ax3.text(1.443, 0.118, 'P3', color=navy, fontsize=15.5, ha='center', va='center')

# ---- panel 4: timing residuals
toa = np.array(toa_points + toa_points_dense)
ax4 = fig.add_axes([0.1309, 0.04206, 0.8137, 0.2069])
ax4.set_facecolor('white')
ax4.errorbar(toa[:, 0], toa[:, 1], yerr=toa[:, 2], fmt='none', ecolor='k',
             elinewidth=1.6, capsize=5, capthick=1.6)
ax4.vlines(glitch_mjd, glitch_span[0], glitch_span[1], colors='#1e8a1e', lw=1.6)
ax4.annotate('', xy=(arrow_mjd, arrow_span[1]), xytext=(arrow_mjd, arrow_span[0]),
             arrowprops=dict(arrowstyle='-|>,head_width=0.3,head_length=1.0',
                             color='red', lw=2, mutation_scale=14))
ax4.plot(dotted_mjd, [dotted_level, dotted_level], color='blue', ls=(0, (1, 2)), lw=2.2)
ax4.set_xlim(47605, 56420)
ax4.set_ylim(-35.06, 35.06)
ax4.xaxis.set_major_locator(MultipleLocator(1000))
ax4.xaxis.set_minor_locator(MultipleLocator(200))
ax4.yaxis.set_major_locator(MultipleLocator(10))
ax4.yaxis.set_minor_locator(MultipleLocator(2))
ax4.tick_params(which='both', direction='in', top=True, right=False, width=1.0)
ax4.tick_params(which='major', length=8)
ax4.tick_params(which='minor', length=5)
ax4.tick_params(labelsize=17, pad=4)
for lab in ax4.get_xticklabels() + ax4.get_yticklabels():
    lab.set_family(serif_big)
ax4.set_ylabel(r'TOA residuals ($\mu$s)', fontsize=25, family=serif_big)
ax4.yaxis.set_label_coords(-0.078, 0.5)
ax4.set_xlabel('Date (MJD)', fontsize=22, family=serif_big)
ax4.xaxis.set_label_coords(0.5, -0.085)
ax4.text(0.972, 0.869, 'Nançay timing', transform=ax4.transAxes, fontsize=27,
         family='Lato', color='#1f6fc1', ha='right', va='center')

ax5 = ax4.twinx()
ax5.set_ylim(-35.06 / 3, 35.06 / 3)
ax5.yaxis.set_major_locator(MultipleLocator(5))
ax5.yaxis.set_minor_locator(MultipleLocator(1))
ax5.tick_params(which='major', direction='inout', length=12, width=1.0, labelsize=17, pad=3)
ax5.tick_params(which='minor', direction='in', length=5, width=1.0)
for lab in ax5.get_yticklabels():
    lab.set_family(serif_big)

fig.savefig('out.png', dpi=100, facecolor=fig.get_facecolor())
